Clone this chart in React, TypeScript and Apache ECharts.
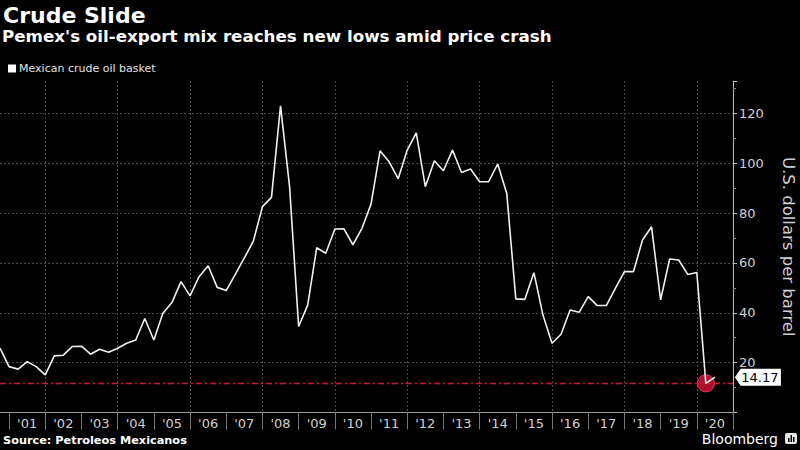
import React, { useEffect, useRef } from 'react';
import * as echarts from 'echarts';

const quarters: string[] = [
  '2000-10',
  '2001-01', '2001-04', '2001-07', '2001-10',
  '2002-01', '2002-04', '2002-07', '2002-10',
  '2003-01', '2003-04', '2003-07', '2003-10',
  '2004-01', '2004-04', '2004-07', '2004-10',
  '2005-01', '2005-04', '2005-07', '2005-10',
  '2006-01', '2006-04', '2006-07', '2006-10',
  '2007-01', '2007-04', '2007-07', '2007-10',
  '2008-01', '2008-04', '2008-07', '2008-10',
  '2009-01', '2009-04', '2009-07', '2009-10',
  '2010-01', '2010-04', '2010-07', '2010-10',
  '2011-01', '2011-04', '2011-07', '2011-10',
  '2012-01', '2012-04', '2012-07', '2012-10',
  '2013-01', '2013-04', '2013-07', '2013-10',
  '2014-01', '2014-04', '2014-07', '2014-10',
  '2015-01', '2015-04', '2015-07', '2015-10',
  '2016-01', '2016-04', '2016-07', '2016-10',
  '2017-01', '2017-04', '2017-07', '2017-10',
  '2018-01', '2018-04', '2018-07', '2018-10',
  '2019-01', '2019-04', '2019-07', '2019-10',
  '2020-01', '2020-04', '2020-07', '2020-10',
  '2021-01',
];

const basket: number[] = [
  25.8,
  18.4, 17.4, 20.4, 18.4,
  15.1, 22.7, 23.0, 26.5,
  26.6, 23.4, 25.4, 24.2,
  25.8, 27.8, 29.1, 37.7,
  29.1, 39.8, 44.1, 52.5,
  46.8, 54.5, 58.9, 50.2,
  48.9, 55.4, 62.0, 68.8,
  82.6, 86.3, 123.0, 90.6,
  34.5, 43.1, 66.1, 63.9,
  73.6, 73.7, 67.3, 73.9,
  83.6, 105.0, 100.6, 93.8,
  105.3, 112.2, 90.6, 101.0,
  97.0, 105.3, 96.3, 97.7,
  92.6, 92.6, 99.7, 87.9,
  45.6, 45.4, 56.1, 39.1,
  27.8, 31.4, 41.1, 40.2,
  46.5, 42.9, 42.9, 49.8,
  56.5, 56.5, 69.2, 74.5,
  45.2, 61.6, 61.2, 55.4,
  56.2, 11.7, 14.17,
];

const seriesName = 'Mexican crude oil basket';
const titleText = 'Crude Slide';
const subtitleText = "Pemex's oil-export mix reaches new lows amid price crash";
const sourceText = 'Source: Petroleos Mexicanos';
const yAxisName = 'U.S. dollars per barrel';

const FONT = '"DejaVu Sans", sans-serif';

export default function App() {
  const ref = useRef<HTMLDivElement>(null);

  useEffect(() => {
    document.body.style.margin = '0';
    document.body.style.background = '#000';
    if (!ref.current) return;
    const chart = echarts.init(ref.current, undefined, { renderer: 'svg' });
    const lastIdx = basket.length - 1;
    const lastVal = basket[lastIdx];

    chart.setOption({
      animation: false,
      backgroundColor: '#000',
      textStyle: { fontFamily: FONT },
      grid: { left: 0, right: 67, top: 81, bottom: 37.5, containLabel: false, outerBoundsMode: 'none' },
      legend: {
        data: [seriesName],
        left: 3,
        top: 58,
        icon: 'rect',
        itemWidth: 8,
        itemHeight: 8,
        itemGap: 4,
        textStyle: { color: '#e0e0e0', fontSize: 11, fontFamily: FONT, padding: [0, 0, 0, -2] },
      },
      xAxis: {
        type: 'category',
        data: quarters,
        boundaryGap: false,
        axisLine: { show: true, lineStyle: { color: '#9a9a9a', width: 1 } },
        axisTick: {
          show: true,
          length: 17,
          interval: (i: number, v: string) => v.endsWith('-01'),
          lineStyle: { color: '#777', width: 1 },
        },
        axisLabel: {
          interval: (i: number, v: string) => v.endsWith('-07'),
          formatter: (v: string) => "'" + v.slice(2, 4),
          color: '#d0d0d0',
          fontSize: 13,
          margin: 4,
        },
        splitLine: {
          show: true,
          interval: (i: number, v: string) => v.endsWith('-01') && parseInt(v.slice(0, 4), 10) % 2 === 0,
          lineStyle: { color: '#4a4a4a', type: [2, 2], width: 1 },
        },
      },
      yAxis: {
        type: 'value',
        position: 'right',
        min: 0,
        max: 133,
        interval: 20,
        name: yAxisName,
        nameLocation: 'middle',
        nameRotate: -90,
        nameGap: 47,
        nameTextStyle: { color: '#d0d0d0', fontSize: 16.5, fontFamily: FONT },
        axisLine: { show: true, lineStyle: { color: '#bdbdbd', width: 1 } },
        axisTick: { show: true, inside: false, length: 4, lineStyle: { color: '#bdbdbd' } },
        minorTick: { show: true, splitNumber: 2, length: 3, lineStyle: { color: '#888' } },
        axisLabel: {
          color: '#d0d0d0',
          fontSize: 13,
          margin: 6,
          showMinLabel: false,
          showMaxLabel: false,
        },
        splitLine: {
          show: true,
          showMinLine: false,
          showMaxLine: false,
          lineStyle: { color: '#4a4a4a', type: [2, 2], width: 1 },
        },
      },
      series: [
        {
          name: seriesName,
          type: 'line',
          z: 3,
          data: basket,
          symbol: 'none',
          itemStyle: { color: '#ffffff' },
          lineStyle: { color: '#f0f0f0', width: 1.6 },
          markLine: {
            silent: true,
            z: 1,
            symbol: 'none',
            label: { show: false },
            lineStyle: { color: '#d4163c', type: [6, 3, 2, 3], width: 1.4 },
            data: [{ type: 'min' }],
          },
          markPoint: {
            silent: true,
            z: 2,
            data: [
              {
                type: 'min',
                symbol: 'circle',
                symbolSize: 17,
                itemStyle: { color: 'rgba(205,18,52,0.85)', borderColor: '#e8385c', borderWidth: 1 },
                label: { show: false },
              },
              {
                coord: [quarters[lastIdx], lastVal],
                value: lastVal,
                symbol: 'path://M0,8 L6,0 L48,0 L48,16 L6,16 Z',
                symbolSize: [46, 17],
                symbolKeepAspect: false,
                symbolOffset: [43, 0],
                itemStyle: { color: '#ffffff' },
                label: {
                  show: true,
                  position: 'inside',
                  formatter: () => lastVal.toFixed(2),
                  color: '#000',
                  fontSize: 13,
                  fontFamily: FONT,
                  offset: [2, 0],
                },
              },
            ],
          },
        },
      ],
      graphic: [
        {
          type: 'text',
          left: 3,
          top: 4,
          style: { text: titleText, fill: '#ffffff', font: `bold 22px ${FONT}` },
        },
        {
          type: 'text',
          left: 2,
          top: 27,
          style: { text: subtitleText, fill: '#ffffff', font: `bold 16.7px ${FONT}` },
        },
        {
          type: 'text',
          left: 3,
          top: 435,
          style: { text: sourceText, fill: '#ffffff', font: `bold 11.3px ${FONT}` },
        },
        {
          type: 'text',
          right: 22,
          top: 432,
          style: { text: 'Bloomberg', fill: '#ffffff', font: `14px ${FONT}` },
        },
        {
          type: 'group',
          right: 3,
          top: 433,
          children: [
            { type: 'rect', shape: { x: 0, y: 0, width: 12, height: 11, r: 2 }, style: { fill: '#e8e8e8' } },
            { type: 'rect', shape: { x: 3, y: 5, width: 1.5, height: 4 }, style: { fill: '#000' } },
            { type: 'rect', shape: { x: 5.5, y: 2, width: 1.5, height: 7 }, style: { fill: '#000' } },
            { type: 'rect', shape: { x: 8, y: 4, width: 1.5, height: 5 }, style: { fill: '#000' } },
          ],
        },
      ],
    });

    return () => chart.dispose();
  }, []);

  return <div ref={ref} style={{ width: 800, height: 450, background: '#000' }} />;
}
